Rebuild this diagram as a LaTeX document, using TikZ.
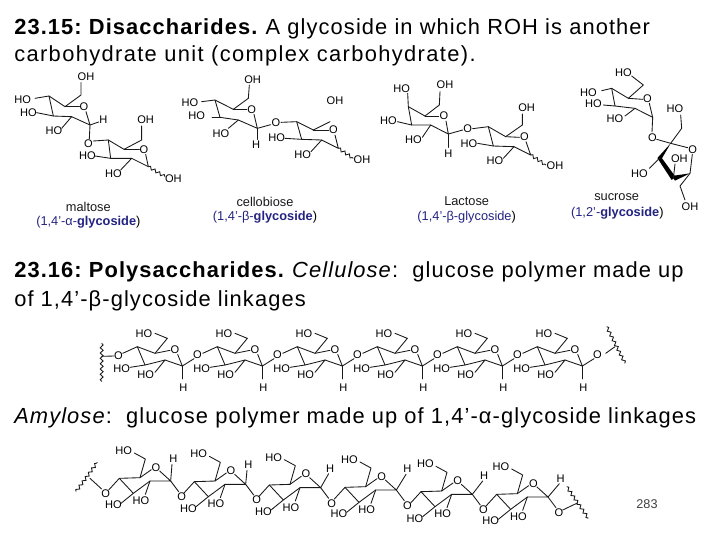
\documentclass[tikz,border=0pt]{standalone}
\usepackage{fontspec}
\setmainfont{Liberation Sans}
\newfontfamily\headfont{Liberation Sans}[LetterSpace=5]
\newfontfamily\headwide{Liberation Sans}[LetterSpace=6.25]
\usetikzlibrary{decorations.pathmorphing}
\definecolor{capblue}{RGB}{35,35,130}
\frenchspacing
\tikzset{
  bond/.style={line width=0.65pt,line join=round,line cap=round,black!90},
  wavy/.style={line width=0.65pt,black!90,decorate,decoration={snake,amplitude=1.1pt,segment length=4pt}},
  atom/.style={inner sep=0pt,font=\fontsize{8.3}{8}\selectfont,black},
  capt/.style={inner sep=0pt,font=\fontsize{9.6}{9}\selectfont,black!90},
  captb/.style={inner sep=0pt,font=\fontsize{9.6}{9}\selectfont,text=capblue},
  head/.style={inner sep=0pt,anchor=base west,font=\headfont\fontsize{16.4}{15}\selectfont},
  headw/.style={inner sep=0pt,anchor=base west,font=\headwide\fontsize{16.4}{15}\selectfont},
  zoomunits/.style={x=.25pt,y=-.25pt},
}
\begin{document}
\begin{tikzpicture}[x=.75pt,y=-.75pt]
\useasboundingbox (0,0) rectangle (720,540);
% headings
\node[head] (t1) at (14,34) {\textbf{23.15: Disaccharides.} A glycoside in which ROH is another};
\node[headw] (t2) at (14,61) {carbohydrate unit (complex carbohydrate).};
\node[head] (t3) at (14,277) {\textbf{23.16: Polysaccharides.} \textit{Cellulose}:\ \ glucose polymer made up};
\node[head] (t4) at (14,306) {of 1,4’-β-glycoside linkages};
\node[head] (t5) at (14,423) {\textit{Amylose}:\ \ glucose polymer made up of 1,4’-α-glycoside linkages};
\node[inner sep=0pt,font=\fontsize{9.5}{9}\selectfont,black!75] (pg) at (647,504) {283};
% ---------- disaccharides left
\begin{scope}[zoomunits,yshift=-45pt]
% maltose
\node[atom] (m1) at (258,50) {OH};
\node[atom] (m2) at (68,118) {HO};
\node[atom] (m3) at (85,158) {HO};
\node[atom] (m4) at (162,212) {HO};
\node[atom] (m5) at (252,140) {O};
\node[atom] (m6) at (310,178) {H};
\node[atom] (m7) at (265,250) {O};
\node[atom] (m8) at (437,180) {OH};
\node[atom] (m9) at (432,268) {O};
\node[atom] (m10) at (262,288) {HO};
\node[atom] (m11) at (340,340) {HO};
\node[atom] (m12) at (520,357) {OH};
\draw[bond] (243,68)--(243,105)--(195,140)--(147,108)--(105,115);
\draw[bond] (195,140)--(238,140);
\draw[bond] (258,155)--(270,195)--(215,170)--(160,168)--(147,108);
\draw[bond] (160,168)--(110,158);
\draw[bond] (215,170)--(185,205);
\draw[bond] (270,195)--(296,186);
\draw[bond] (270,195)--(268,236);
\draw[bond] (280,243)--(325,240)--(372,268)--(425,240)--(425,198);
\draw[bond] (372,268)--(418,268);
\draw[bond] (437,283)--(445,320)--(395,295)--(332,295)--(325,240);
\draw[bond] (332,295)--(285,288);
\draw[bond] (395,295)--(362,330);
\draw[wavy] (445,320)--(495,350);
\node[capt] (mc1) at (265,440) {maltose};
\node[captb] (mc2) at (265,488) {(1,4'-α-\textbf{glycoside}\textcolor{black}{)}};
% cellobiose
\node[atom] (c1) at (758,60) {OH};
\node[atom] (c2) at (570,128) {HO};
\node[atom] (c3) at (590,168) {HO};
\node[atom] (c4) at (663,222) {HO};
\node[atom] (c5) at (755,148) {O};
\node[atom] (c6) at (768,255) {H};
\node[atom] (c7) at (828,188) {O};
\node[atom] (c8) at (1005,122) {OH};
\node[atom] (c9) at (1000,210) {O};
\node[atom] (c10) at (830,232) {HO};
\node[atom] (c11) at (908,285) {HO};
\node[atom] (c12) at (1086,300) {OH};
\draw[bond] (748,75)--(745,115)--(700,148)--(645,120)--(605,125);
\draw[bond] (700,148)--(740,148);
\draw[bond] (762,163)--(772,205)--(715,180)--(660,172)--(645,120);
\draw[bond] (660,172)--(636,172);
\draw[bond] (715,180)--(685,205);
\draw[bond] (772,205)--(772,238);
\draw[bond] (772,205)--(812,194);
\draw[bond] (843,187)--(890,185)--(940,210)--(990,185);
\draw[bond] (940,210)--(986,210);
\draw[bond] (1005,225)--(1015,265)--(965,240)--(905,238)--(890,185);
\draw[bond] (905,238)--(855,235);
\draw[bond] (965,240)--(933,275);
\draw[wavy] (1015,265)--(1060,295);
\node[capt] (cc1) at (795,425) {cellobiose};
\node[captb] (cc2) at (795,473) {(1,4'-β-\textbf{glycoside}\textcolor{black}{)}};
\end{scope}
% ---------- disaccharides right
\begin{scope}[zoomunits,xshift=270pt,yshift=-45pt]
% lactose
\node[atom] (l1) at (125,85) {HO};
\node[atom] (l2) at (255,75) {OH};
\node[atom] (l3) at (85,183) {HO};
\node[atom] (l4) at (160,240) {HO};
\node[atom] (l5) at (252,168) {O};
\node[atom] (l6) at (265,280) {H};
\node[atom] (l7) at (323,207) {O};
\node[atom] (l8) at (500,142) {OH};
\node[atom] (l9) at (493,230) {O};
\node[atom] (l10) at (327,250) {HO};
\node[atom] (l11) at (405,303) {HO};
\node[atom] (l12) at (585,318) {OH};
\draw[bond] (143,100)--(145,140)--(195,168)--(238,135)--(240,95);
\draw[bond] (195,168)--(236,168);
\draw[bond] (258,183)--(265,222)--(212,195)--(155,195)--(145,140);
\draw[bond] (155,195)--(112,185);
\draw[bond] (212,195)--(187,232);
\draw[bond] (265,222)--(265,262);
\draw[bond] (265,222)--(308,210);
\draw[bond] (338,206)--(385,200)--(437,230)--(487,195)--(487,162);
\draw[bond] (437,230)--(478,232);
\draw[bond] (498,245)--(512,285)--(462,260)--(400,258)--(385,200);
\draw[bond] (400,258)--(353,250);
\draw[bond] (462,260)--(430,295);
\draw[wavy] (512,285)--(558,315);
\node[capt] (lc1) at (320,423) {Lactose};
\node[captb] (lc2) at (320,473) {(1,4'-β-glycoside\textcolor{black}{)}};
% sucrose
\node[atom] (s1) at (790,38) {HO};
\node[atom] (s2) at (685,98) {HO};
\node[atom] (s3) at (700,130) {HO};
\node[atom] (s4) at (765,177) {HO};
\node[atom] (s5) at (862,115) {O};
\node[atom] (s6) at (877,232) {O};
\node[atom] (s7) at (945,147) {HO};
\node[atom] (s8) at (998,268) {O};
\node[atom] (s9) at (958,295) {OH};
\node[atom] (s10) at (838,340) {HO};
\node[atom] (s11) at (990,440) {OH};
\draw[bond] (815,48)--(850,75)--(805,115)--(755,85)--(725,92);
\draw[bond] (805,115)--(848,118);
\draw[bond] (868,130)--(878,172)--(825,145)--(765,138)--(755,85);
\draw[bond] (765,138)--(730,135);
\draw[bond] (825,145)--(795,168);
\draw[bond] (878,172)--(876,216);
\draw[bond] (890,238)--(932,250);
\draw[bond] (932,250)--(965,205)--(962,165);
\draw[bond] (932,250)--(983,263);
\draw[bond] (997,283)--(990,340);
\fill[black] (932,250)--(893,293)--(904,298)--cycle;
\fill[black] (892,294)--(904,292)--(946,350)--(935,360)--cycle;
\fill[black] (990,340)--(935,348)--(945,362)--cycle;
\draw[bond] (898,295)--(868,325);
\draw[bond] (940,355)--(945,312);
\draw[bond] (990,340)--(960,378)--(975,420);
\node[capt] (sc1) at (770,410) {sucrose};
\node[captb] (sc2) at (772,460) {(1,2'-\textbf{glycoside}\textcolor{black}{)}};
\end{scope}
% ---------- cellulose
\begin{scope}[zoomunits,xshift=60pt,yshift=-236.25pt]
\draw[wavy] (65,85)--(65,200);
\node[atom] (cl0) at (115,122) {O};
\draw[bond] (65,124)--(102,123);
\foreach \k in {0,...,5}{
\begin{scope}[xshift=\k*60pt]
\node[atom] (cla\k) at (192,55) {HO};
\node[atom] (clb\k) at (125,160) {HO};
\node[atom] (clc\k) at (197,180) {HO};
\node[atom] (cld\k) at (285,103) {O};
\node[atom] (cle\k) at (310,218) {H};
\node[atom] (clf\k) at (352,120) {O};
\draw[bond] (128,115)--(172,95)--(225,115)--(262,70)--(225,55);
\draw[bond] (225,115)--(270,106);
\draw[bond] (293,118)--(307,153)--(255,135)--(195,150)--(172,95);
\draw[bond] (195,150)--(150,157);
\draw[bond] (255,135)--(225,172);
\draw[bond] (307,153)--(307,192);
\draw[bond] (307,153)--(342,131);
\end{scope}}
\end{scope}
\begin{scope}[zoomunits,xshift=262.5pt,yshift=-236.25pt]
\draw[bond] (767,115)--(795,95);
\draw[wavy] (770,35)--(825,145);
\end{scope}
% ---------- amylose
\begin{scope}[zoomunits,xshift=45pt,yshift=-326.25pt]
\draw[wavy] (48,170)--(112,82);
\node[atom] (am0) at (137,175) {O};
\draw[bond] (90,130)--(125,162);
\foreach \k/\ax/\ay/\hx/\hy in {1/178/130/170/-58,2/403/140/170/-50,3/628/150/190/-50,4/855/157/195/-55,5/1083/170/197/-48,6/1310/178/200/-48}{
\begin{scope}[xshift=\ax*.25pt,yshift=-\ay*.25pt]
\node[atom] (ama\k) at (13,-83) {HO};
\node[atom] (amb\k) at (-18,80) {HO};
\node[atom] (amc\k) at (65,67) {HO};
\node[atom] (amd\k) at (110,-33) {O};
\node[atom] (ame\k) at (\hx-8,\hy) {H};
\node[atom] (amf\k) at (187,55) {O};
\draw[bond] (-32,35)--(0,0)--(62,-2)--(78,-58)--(45,-76);
\draw[bond] (62,-2)--(96,-26);
\draw[bond] (121,-22)--(154,8)--(92,8)--(42,45)--(0,0);
\draw[bond] (92,8)--(78,48);
\draw[bond] (42,45)--(5,75);
\draw[bond] (154,8)--(\hx-12,\hy+16);
\draw[bond] (154,8)--(178,40);
\end{scope}}
\end{scope}
\begin{scope}[zoomunits,xshift=255pt,yshift=-326.25pt]
\draw[bond] (668,225)--(710,205);
\draw[wavy] (680,155)--(745,250);
\end{scope}
\end{tikzpicture}
\end{document}
